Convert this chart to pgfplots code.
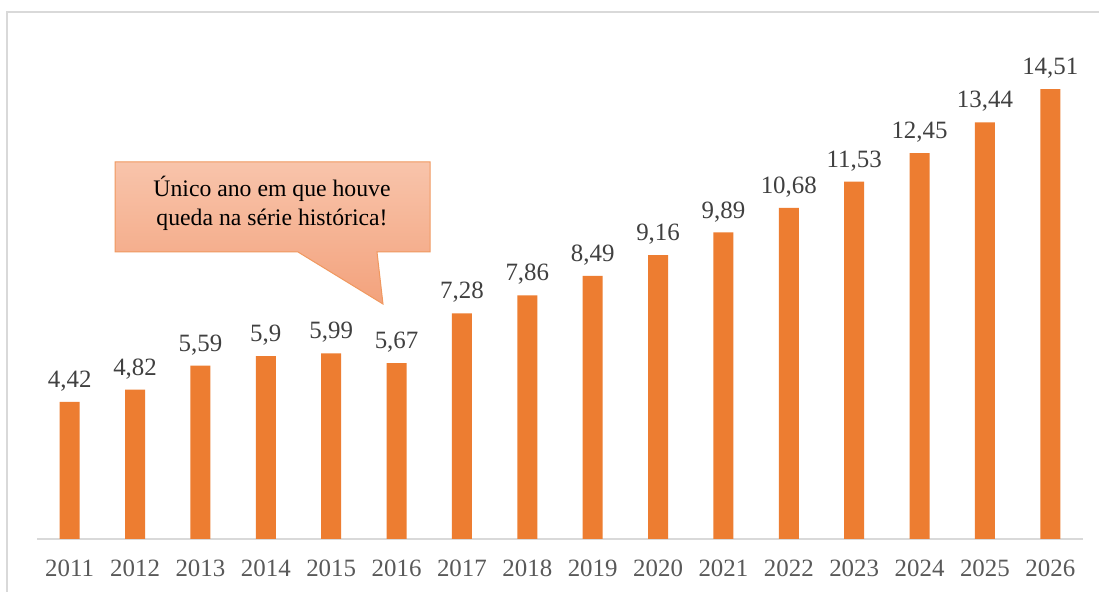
\documentclass[border=0pt]{standalone}
\usepackage{pgfplots}
\pgfplotsset{compat=1.18}
\usepackage{pgfplotstable}
\usepackage{fontspec}
\setmainfont{Liberation Serif}
\definecolor{barc}{HTML}{ED7D31}
\definecolor{framec}{HTML}{D9D9D9}
\definecolor{lblc}{HTML}{404040}
\definecolor{tickc}{HTML}{595959}
\definecolor{ctop}{HTML}{F8C4AB}
\definecolor{cbot}{HTML}{F3A27C}
\definecolor{cborder}{HTML}{F0985F}
\pgfplotstableread{
x y lab
0 4.42 {4,42}
1 4.82 {4,82}
2 5.59 {5,59}
3 5.9 {5,9}
4 5.99 {5,99}
5 5.67 {5,67}
6 7.28 {7,28}
7 7.86 {7,86}
8 8.49 {8,49}
9 9.16 {9,16}
10 9.89 {9,89}
11 10.68 {10,68}
12 11.53 {11,53}
13 12.45 {12,45}
14 13.44 {13,44}
15 14.51 {14,51}
}\datatable
\begin{document}
\begin{tikzpicture}[x=1bp,y=1bp]
\path[use as bounding box, fill=white] (0,0) rectangle (1099,592);
\draw[color=framec, line width=1.5bp] (7,0) -- (7,580) -- (1099,580);
\begin{axis}[
  at={(37bp,53bp)}, anchor=south west,
  scale only axis, width=1046bp, height=496bp,
  xmin=-0.5, xmax=15.5, ymin=0, ymax=16,
  axis x line=bottom, axis y line=none,
  axis line style={draw=framec, line width=1.2bp, -},
  xtick={0,...,15},
  xticklabels={2011,2012,2013,2014,2015,2016,2017,2018,2019,2020,2021,2022,2023,2024,2025,2026},
  major tick length=0pt,
  xticklabel style={font=\fontsize{25}{29}\selectfont, text=tickc, yshift=-17bp},
  ytick=\empty,
  clip=false,
]
\addplot[ybar, bar width=20bp, fill=barc, draw=none,
  point meta=explicit symbolic,
  nodes near coords,
  every node near coord/.append style={font=\fontsize{25}{29}\selectfont, text=lblc, anchor=south, yshift=7bp},
] table[x=x, y=y, meta=lab] {\datatable};
\end{axis}
\draw[draw=cborder, line width=1bp, top color=ctop, bottom color=cbot]
  (115,430) -- (430,430) -- (430,340) -- (377,340) -- (383,288) -- (298,340) -- (115,340) -- cycle;
\node[align=center, font=\fontsize{23.8}{29}\selectfont, text=black] at (272,389)
  {Único ano em que houve\\queda na série histórica!};
\end{tikzpicture}
\end{document}
